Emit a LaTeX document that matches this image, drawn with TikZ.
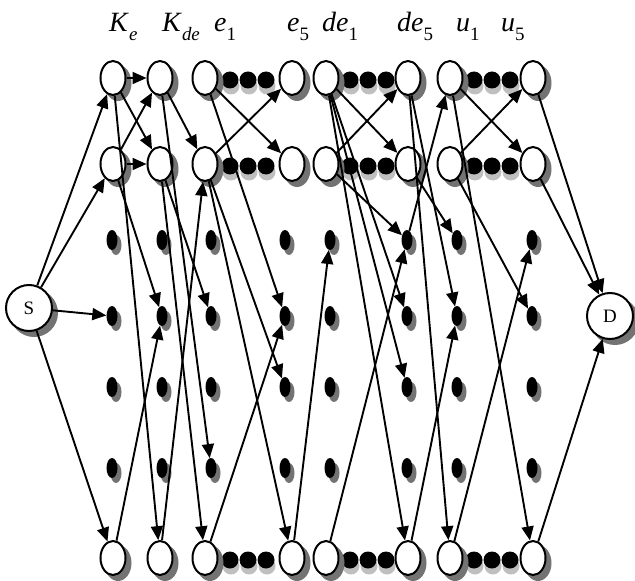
\documentclass[tikz,border=0pt]{standalone}
\usepackage{fontspec}
\setmainfont{Liberation Serif}
\usetikzlibrary{shapes.geometric,arrows.meta}

\newcommand\collab[2]{\fontsize{28}{28}\selectfont\textit{#1}\raisebox{-9bp}{\fontsize{19}{19}\selectfont #2}}

\begin{document}
\begin{tikzpicture}[x=1bp, y=-1bp,
    stage/.style={draw, ellipse, line width=2bp, fill=white, minimum width=25bp, minimum height=34bp, inner sep=0pt},
    stageshade/.style={ellipse, fill=black!55, minimum width=27bp, minimum height=36bp, inner sep=0pt},
    blob/.style={ellipse, fill=black, minimum width=11bp, minimum height=20bp, inner sep=0pt},
    blobshade/.style={ellipse, fill=black!55, minimum width=11bp, minimum height=20bp, inner sep=0pt},
    more/.style={circle, fill=black, minimum size=17bp, inner sep=0pt},
    moreshade/.style={circle, fill=black!25, minimum size=17bp, inner sep=0pt},
    term/.style={draw, circle, line width=2bp, fill=white, minimum size=46bp, inner sep=0pt, font=\fontsize{19}{19}\selectfont},
    termshade/.style={circle, fill=black!55, minimum size=48bp, inner sep=0pt},
    lab/.style={anchor=base west, inner sep=0pt},
    arr/.style={-{Triangle[length=14bp,width=12bp]}, line width=1.9bp}
]
    \useasboundingbox (0,0) rectangle (635,581);

    % column labels
    \node[lab] (lke)  at (109,32) {\collab{K}{\textit{e}}};
    \node[lab] (lkde) at (162,32) {\collab{K}{\textit{de}}};
    \node[lab] (lea)  at (214,32) {\collab{e}{1}};
    \node[lab] (leb)  at (287,32) {\collab{e}{5}};
    \node[lab] (ldea) at (322,32) {\collab{de}{1}};
    \node[lab] (ldeb) at (397,32) {\collab{de}{5}};
    \node[lab] (lua)  at (456,32) {\collab{u}{1}};
    \node[lab] (lub)  at (501,32) {\collab{u}{5}};

    % dots between e1..e5, de1..de5, u1..u5
    \foreach \r/\y in {1/80, 2/166, 7/560}
        \foreach \i/\x in {1/230, 2/248, 3/266, 4/350, 5/368, 6/386, 7/474, 8/492, 9/510} {
            \node[moreshade] (m-\r-\i-sh) at (\x+1,\y+6) {};
            \node[more] (m-\r-\i) at (\x,\y) {};
        }

    % rows of stages
    \foreach \r/\y in {1/78, 2/164, 7/558}
        \foreach \c/\x in {ke/113, kde/160, ea/205, eb/292, dea/326, deb/408, ua/450, ub/533} {
            \node[stageshade] (\c-\r-sh) at (\x+5,\y+5) {};
            \node[stage] (\c-\r) at (\x,\y) {};
        }
    \foreach \r/\y in {3/240, 4/316, 5/387, 6/468}
        \foreach \c/\x in {ke/112, kde/162, ea/211, eb/285, dea/330, deb/407, ua/457, ub/532} {
            \node[blobshade] (\c-\r-sh) at (\x+4,\y+5) {};
            \node[blob] (\c-\r) at (\x,\y) {};
        }

    \node[termshade] (s-sh) at (34,313) {};
    \node[term] (s) at (29,308) {S};
    \node[termshade] (d-sh) at (615,321) {};
    \node[term] (d) at (610,316) {D};

    \draw[arr] (s) -- (ke-1);
    \draw[arr] (s) -- (ke-2);
    \draw[arr] (s) -- (ke-4);
    \draw[arr] (s) -- (ke-7);

    \draw[arr] (ke-1) -- (kde-1);
    \draw[arr] (ke-1) -- (kde-2);
    \draw[arr] (ke-1) -- (kde-7);
    \draw[arr] (ke-2) -- (kde-1);
    \draw[arr] (ke-2) -- (kde-2);
    \draw[arr] (ke-2) -- (kde-4);
    \draw[arr] (ke-7) -- (kde-4);

    \draw[arr] (kde-1) -- (ea-2);
    \draw[arr] (kde-1) -- (ea-6);
    \draw[arr] (kde-2) -- (ea-4);
    \draw[arr] (kde-2) -- (ea-7);
    \draw[arr] (kde-7) -- (ea-2);

    \draw[arr] (ea-1) -- (eb-2);
    \draw[arr] (ea-1) -- (eb-4);
    \draw[arr] (ea-2) -- (eb-1);
    \draw[arr] (ea-2) -- (eb-5);
    \draw[arr] (ea-2) -- (eb-7);
    \draw[arr] (ea-7) -- (eb-4);
    \draw[arr] (eb-7) -- (dea-3);

    \draw[arr] (dea-1) -- (deb-2);
    \draw[arr] (dea-1) -- (deb-4);
    \draw[arr] (dea-1) -- (deb-5);
    \draw[arr] (dea-1) -- (deb-7);
    \draw[arr] (dea-2) -- (deb-1);
    \draw[arr] (dea-2) -- (deb-3);
    \draw[arr] (dea-7) -- (deb-3);
    \draw[arr] (deb-3) -- (ua-1);

    \draw[arr] (deb-1) -- (ua-4);
    \draw[arr] (deb-1) -- (ua-7);
    \draw[arr] (deb-2) -- (ua-3);
    \draw[arr] (deb-7) -- (ua-4);

    \draw[arr] (ua-1) -- (ub-2);
    \draw[arr] (ua-1) -- (ub-7);
    \draw[arr] (ua-2) -- (ub-1);
    \draw[arr] (ua-2) -- (ub-4);
    \draw[arr] (ua-7) -- (ub-3);

    \draw[arr] (ub-1) -- (d);
    \draw[arr] (ub-2) -- (d);
    \draw[arr] (ub-7) -- (d);
\end{tikzpicture}
\end{document}
